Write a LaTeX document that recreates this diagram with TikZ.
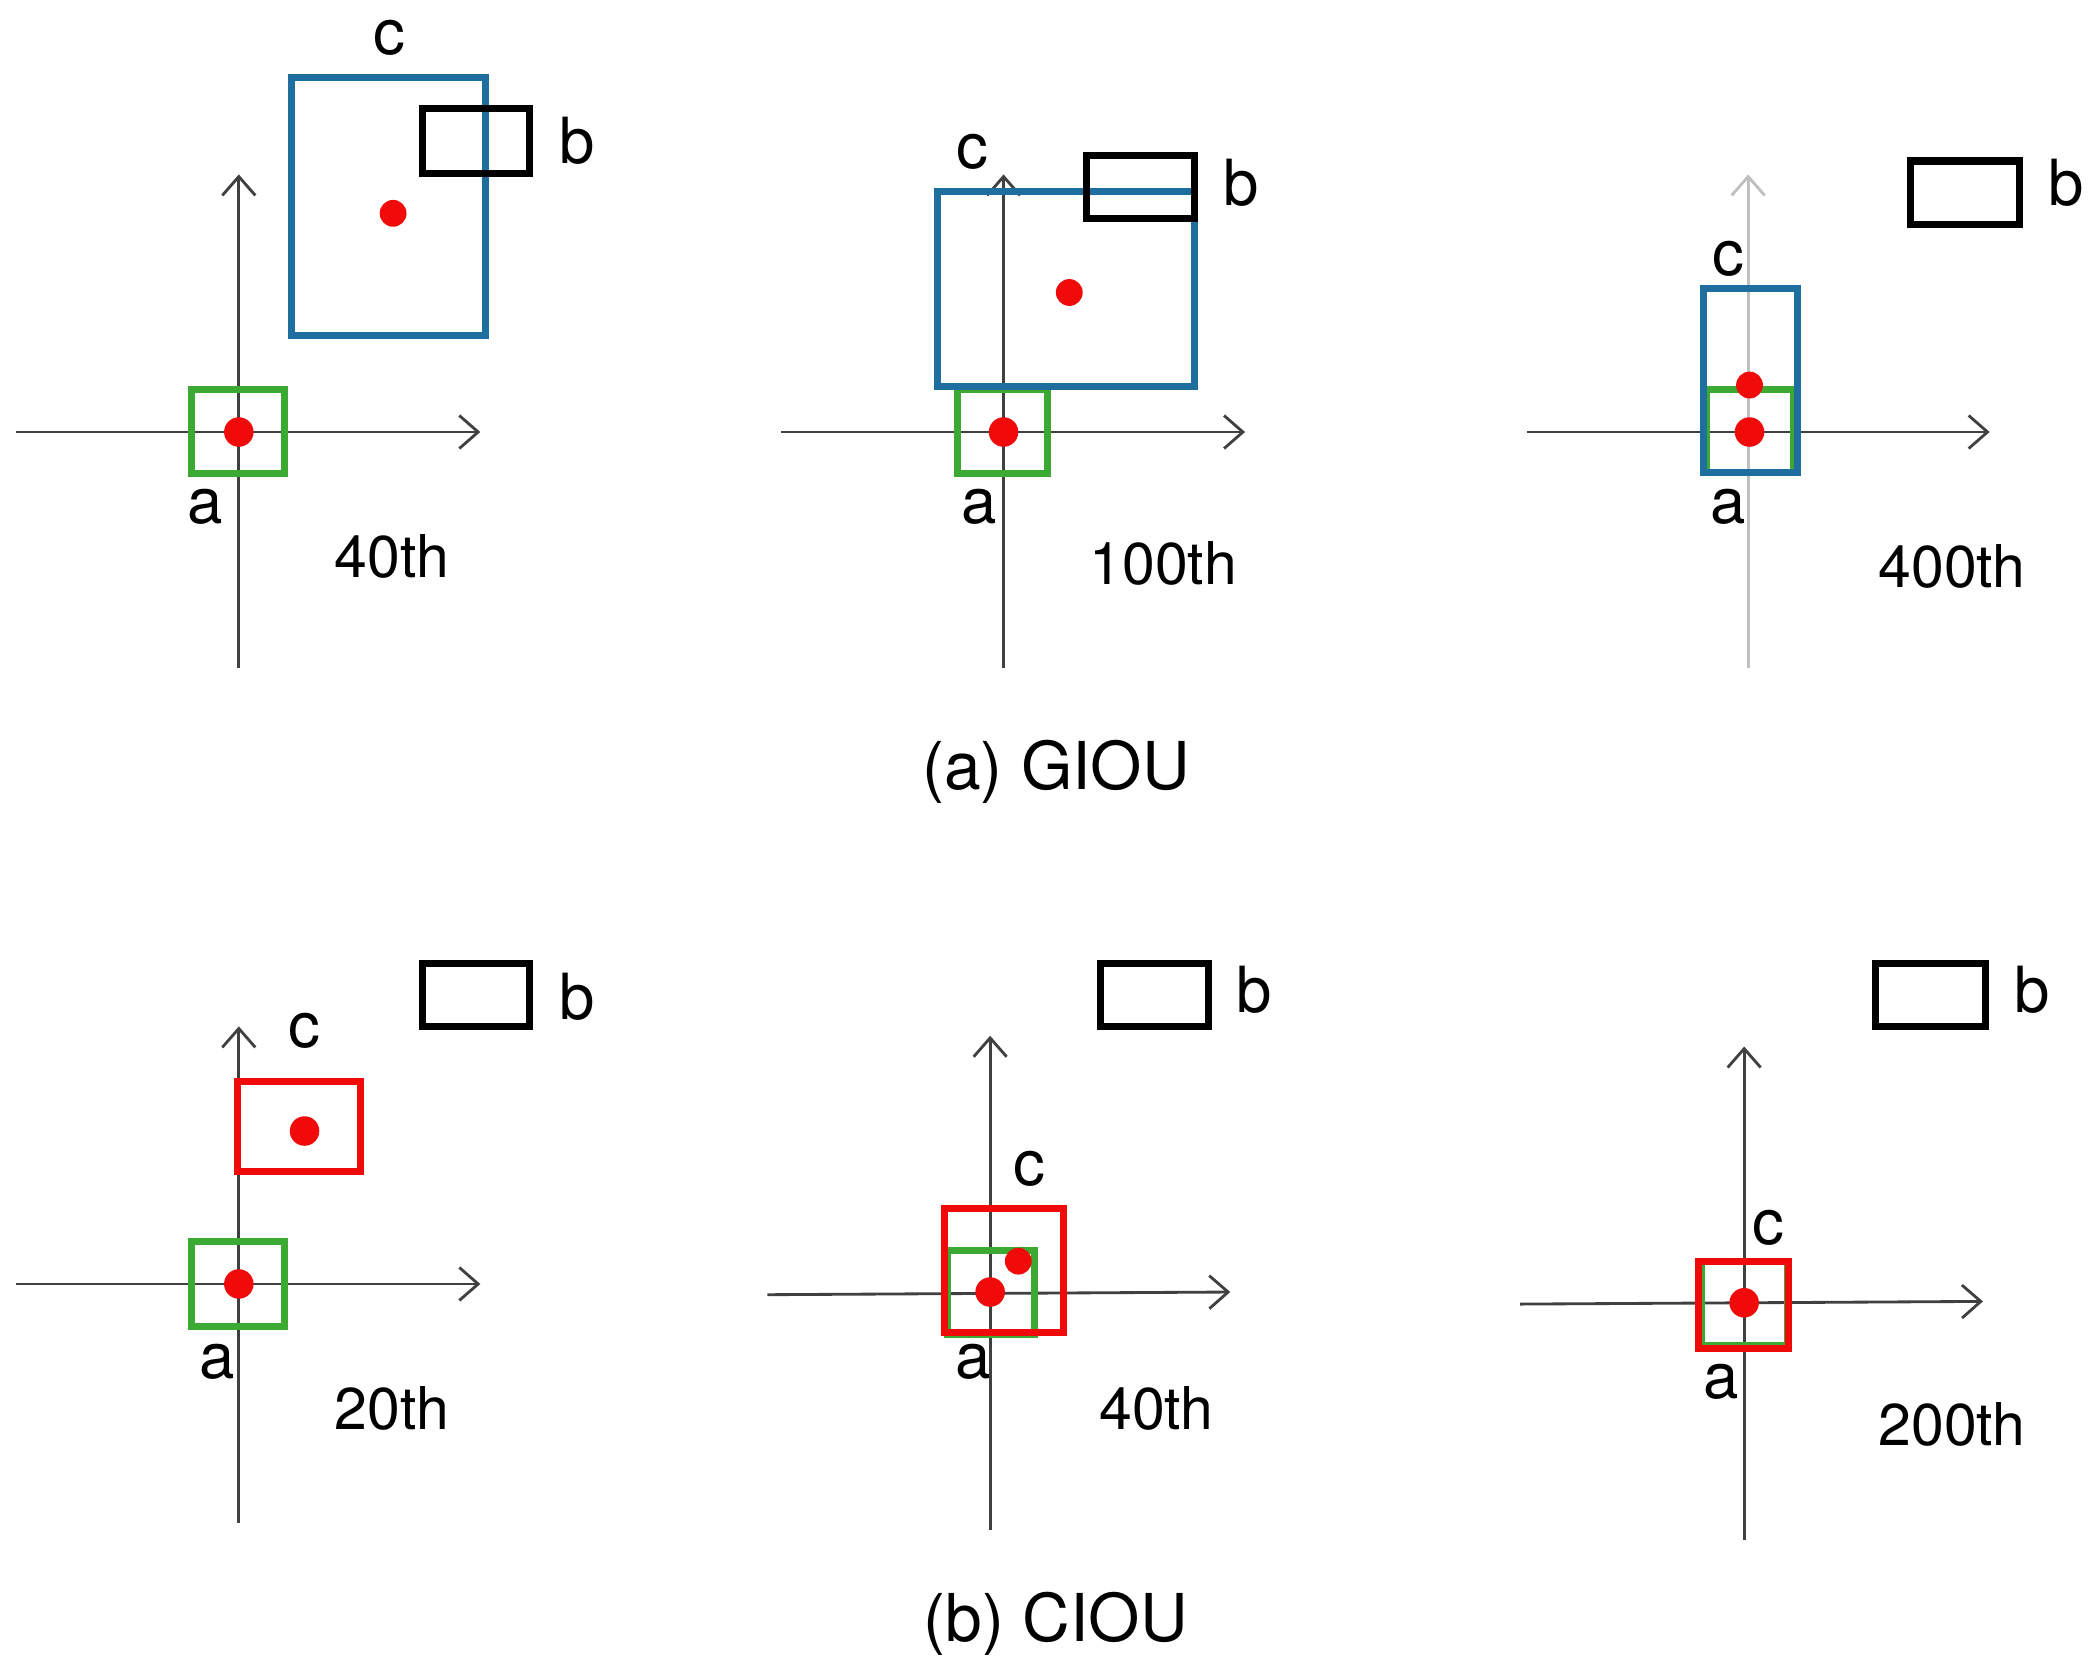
\documentclass[tikz,border=0pt]{standalone}
\usepackage{fontspec}
\setmainfont{TeX Gyre Heros}
\usetikzlibrary{arrows.meta}
\definecolor{bbl}{RGB}{30,110,160}
\definecolor{ggr}{RGB}{60,170,50}
\definecolor{rrd}{RGB}{240,10,10}
\tikzset{
 ax/.style={draw=black!75,line width=1.2pt,-{Straight Barb[length=8pt,width=14pt]}},
 bx/.style={line width=3pt},
 dot/.style={fill=rrd,draw=none},
 lab/.style={font=\fontsize{27}{30}\selectfont},
 ep/.style={font=\fontsize{25}{28}\selectfont},
 captext/.style={font=\fontsize{28}{32}\selectfont}
}
\begin{document}
\begin{tikzpicture}[x=0.02cm,y=-0.02cm]
\useasboundingbox (0,0) rectangle (1563,1245);
% panel 1
\draw[ax] (12,322) -- (358,322);
\draw[ax] (178,498) -- (178,130);
\draw[bx,ggr] (143,290) rectangle (212,353);
\draw[bx,bbl] (217,58) rectangle (362,250);
\draw[bx,black] (315,81) rectangle (395,129);
\fill[dot] (178,322) circle (11);
\fill[dot] (293,159) circle (10);
\node[lab] (c1) at (290,28) {c};
\node[lab] (b1) at (430,105) {b};
\node[lab] (a1) at (153,378) {a};
\node[ep] (e1) at (292,415) {40th};
% panel 2
\draw[ax] (582,322) -- (928,322);
\draw[ax] (748,498) -- (748,130);
\draw[bx,ggr] (714,290) rectangle (781,353);
\draw[bx,bbl] (699,143) rectangle (890,288);
\draw[bx,black] (810,116) rectangle (890,163);
\fill[dot] (748,322) circle (11);
\fill[dot] (797,218) circle (10);
\node[lab] (c2) at (725,113) {c};
\node[lab] (b2) at (925,136) {b};
\node[lab] (a2) at (730,378) {a};
\node[ep] (e2) at (867,420) {100th};
% panel 3
\draw[ax] (1138,322) -- (1483,322);
\draw[ax,draw=black!25] (1303,498) -- (1303,130);
\draw[bx,ggr] (1272,290) rectangle (1337,352);
\draw[bx,bbl] (1270,215) rectangle (1340,352);
\draw[bx,black] (1424,120) rectangle (1505,167);
\fill[dot] (1304,287) circle (10);
\fill[dot] (1304,322) circle (11);
\node[lab] (c3) at (1288,193) {c};
\node[lab] (b3) at (1540,136) {b};
\node[lab] (a3) at (1288,378) {a};
\node[ep] (e3) at (1455,422) {400th};
\node[captext] (ca) at (787,575) {(a) GIOU};
% panel 4
\draw[ax] (12,957) -- (358,957);
\draw[ax] (178,1135) -- (178,765);
\draw[bx,ggr] (143,925) rectangle (212,989);
\draw[bx,rrd] (177,806) rectangle (269,873);
\draw[bx,black] (315,718) rectangle (395,765);
\fill[dot] (178,957) circle (11);
\fill[dot] (227,843) circle (11);
\node[lab] (c4) at (227,768) {c};
\node[lab] (b4) at (430,743) {b};
\node[lab] (a4) at (162,1015) {a};
\node[ep] (e4) at (292,1050) {20th};
% panel 5
\draw[ax] (572,965) -- (917,963);
\draw[ax] (738,1140) -- (738,772);
\draw[bx,ggr] (706,932) rectangle (771,995);
\draw[bx,rrd] (704,901) rectangle (793,993);
\draw[bx,black] (820,718) rectangle (901,765);
\fill[dot] (738,963) circle (11);
\fill[dot] (759,940) circle (10);
\node[lab] (c5) at (767,871) {c};
\node[lab] (b5) at (935,738) {b};
\node[lab] (a5) at (725,1015) {a};
\node[ep] (e5) at (862,1050) {40th};
% panel 6
\draw[ax] (1133,972) -- (1478,970);
\draw[ax] (1300,1148) -- (1300,780);
\draw[bx,ggr] (1268,940) rectangle (1332,1003);
\draw[bx,rrd] (1266,940) rectangle (1333,1005);
\draw[bx,black] (1398,718) rectangle (1480,765);
\fill[dot] (1300,971) circle (11);
\node[lab] (c6) at (1318,915) {c};
\node[lab] (b6) at (1515,738) {b};
\node[lab] (a6) at (1283,1030) {a};
\node[ep] (e6) at (1455,1062) {200th};
\node[captext] (cb) at (787,1210) {(b) CIOU};
\end{tikzpicture}
\end{document}
